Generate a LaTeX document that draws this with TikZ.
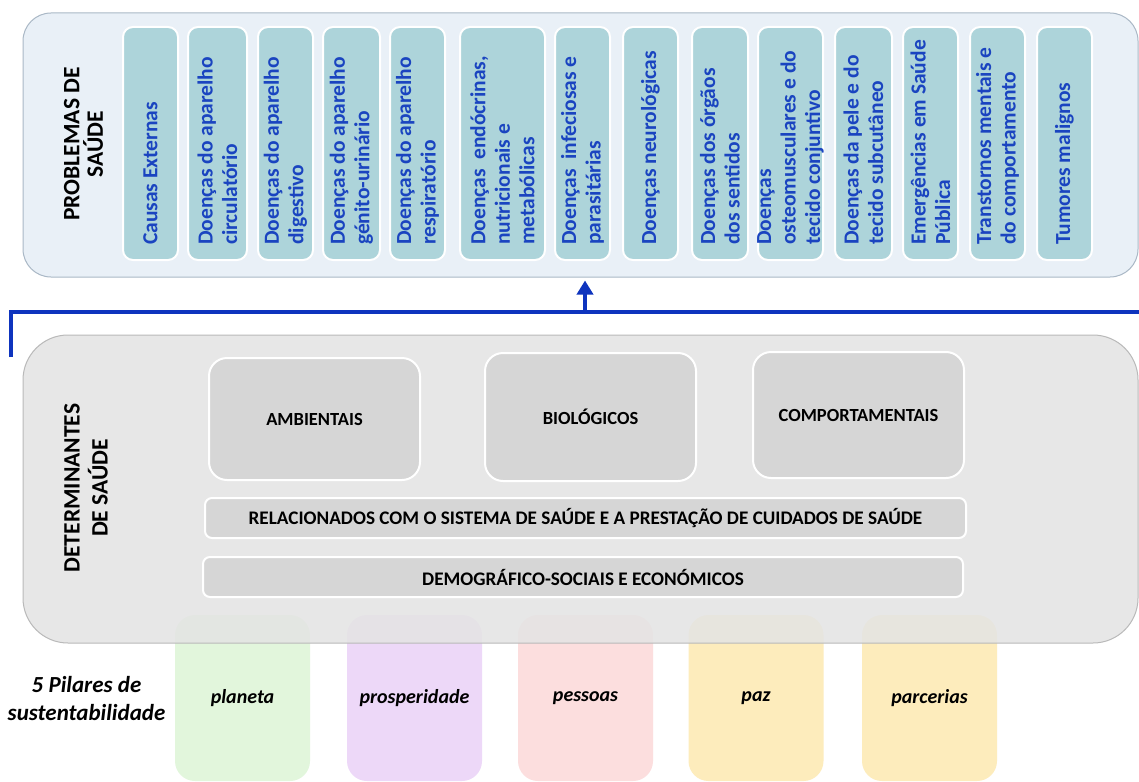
\documentclass[tikz,border=0pt]{standalone}
\usepackage{fontspec}
\setmainfont{Carlito}
\usetikzlibrary{arrows.meta}
\definecolor{topfill}{RGB}{233,240,247}
\definecolor{topdraw}{RGB}{170,184,198}
\definecolor{colfill}{RGB}{173,212,218}
\definecolor{coltext}{RGB}{26,68,192}
\definecolor{botfill}{RGB}{228,228,228}
\definecolor{botdraw}{RGB}{185,185,185}
\definecolor{boxfill}{RGB}{214,214,214}
\definecolor{arrowblue}{RGB}{14,52,190}
\definecolor{pgreen}{RGB}{226,246,220}
\definecolor{ppurple}{RGB}{237,216,248}
\definecolor{ppink}{RGB}{252,222,222}
\definecolor{pyellow}{RGB}{253,236,188}
\begin{document}
\begin{tikzpicture}[x=1pt,y=-1pt,
  colbox/.style={draw=white, line width=2pt, fill=colfill, rounded corners=10pt, inner sep=0pt},
  coltxt/.style={rotate=90, anchor=west, align=left, inner sep=0pt, text=coltext,
                 font=\fontsize{21.5}{24.5}\selectfont\bfseries},
  graybox/.style={draw=white, line width=2pt, fill=boxfill, rounded corners=18pt, inner sep=0pt,
                  font=\fontsize{18.5}{22}\selectfont\bfseries},
  barbox/.style={draw=white, line width=2pt, fill=boxfill, rounded corners=7pt, inner sep=0pt,
                 font=\fontsize{19.2}{22}\selectfont\bfseries},
  pillar/.style={fill=#1, draw=none, rounded corners=20pt, minimum width=135pt, minimum height=166pt,
                 inner sep=0pt, font=\fontsize{20}{24}\selectfont\bfseries\itshape},
  conn/.style={draw=arrowblue, line width=4pt}
]
\useasboundingbox (0,0) rectangle (1139,781);
\fill[white] (0,0) rectangle (1139,781);

% top container
\node[draw=topdraw, fill=topfill, line width=1pt, rounded corners=28pt,
      minimum width=1115pt, minimum height=264pt, inner sep=0pt] (prob) at (580.5,145) {};
\node[rotate=90, align=center, inner sep=0pt,
      font=\fontsize{23.5}{23.5}\selectfont\bfseries] (probt) at (83.5,144) {PROBLEMAS DE\\SAÚDE};

\foreach \i/\xa/\xb/\txt in {
  1/123/178/{Causas Externas},
  2/188/247/{Doenças do aparelho\\circulatório},
  3/258/313/{Doenças do aparelho\\digestivo},
  4/323/380/{Doenças do aparelho\\génito-urinário},
  5/390/445/{Doenças do aparelho\\respiratório},
  6/460/545/{Doenças\ \ endócrinas,\\nutricionais e\\metabólicas},
  7/555/610/{Doenças\ \ infeciosas e\\parasitárias},
  8/623/678/{Doenças neurológicas},
  9/692/748/{Doenças dos órgãos\\dos sentidos},
  10/758/823/{Doenças\\osteomusculares e do\\tecido conjuntivo},
  11/835/892/{Doenças da pele e do\\tecido subcutâneo},
  12/903/958/{Emergências em Saúde\\Pública},
  13/970/1025/{Transtornos mentais e\\do comportamento},
  14/1037/1092/{Tumores malignos}}{
  \pgfmathsetmacro{\xc}{(\xa+\xb)/2}
  \pgfmathsetmacro{\cw}{\xb-\xa}
  \node[colbox, minimum width=\cw pt, minimum height=233pt] (c\i) at (\xc,143.5) {};
  \node[coltxt] (t\i) at (\xc,245) {\txt};
}

% pillars (behind the grey container)
\node[pillar=pgreen]  (pla) at (242.5,698) {planeta};
\node[pillar=ppurple] (pro) at (414.5,698) {prosperidade};
\node[pillar=ppink]   (pes) at (585.5,698) {pessoas};
\node[pillar=pyellow] (paz) at (756,698)   {paz};
\node[pillar=pyellow] (par) at (929.5,698) {parcerias};
\node[align=center, inner sep=0pt, font=\fontsize{23}{28}\selectfont\bfseries\itshape]
  (pil) at (86.5,699) {5 Pilares de\\sustentabilidade};

% bottom container
\node[draw=botdraw, fill=botfill, fill opacity=0.86, line width=1pt, rounded corners=45pt,
      minimum width=1115pt, minimum height=308pt, inner sep=0pt] (det) at (580.5,489) {};
\node[rotate=90, align=center, inner sep=0pt,
      font=\fontsize{23.5}{28}\selectfont\bfseries] (dett) at (86,488) {DETERMINANTES\\DE SAÚDE};

\node[graybox, minimum width=211pt, minimum height=122pt] (amb) at (314.5,419) {AMBIENTAIS};
\node[graybox, minimum width=211pt, minimum height=128pt] (bio) at (590.5,417) {BIOLÓGICOS};
\node[graybox, minimum width=211pt, minimum height=126pt] (comp) at (858.5,415) {COMPORTAMENTAIS};
\node[barbox, minimum width=761pt, minimum height=40pt] (rel) at (585.5,518)
  {RELACIONADOS COM O SISTEMA DE SAÚDE E A PRESTAÇÃO DE CUIDADOS DE SAÚDE};
\node[barbox, minimum width=760pt, minimum height=40pt] (dem) at (583,577)
  {DEMOGRÁFICO-SOCIAIS E ECONÓMICOS};

% blue connector
\coordinate (ls) at (11,357);
\coordinate (re) at (1139,312);
\coordinate (jn) at (585,312);
\draw[conn] (ls) |- (re);
\draw[conn, -{Triangle[width=16pt,length=14pt]}, shorten >=3pt] (jn) -- (jn |- prob.south);
\end{tikzpicture}
\end{document}
